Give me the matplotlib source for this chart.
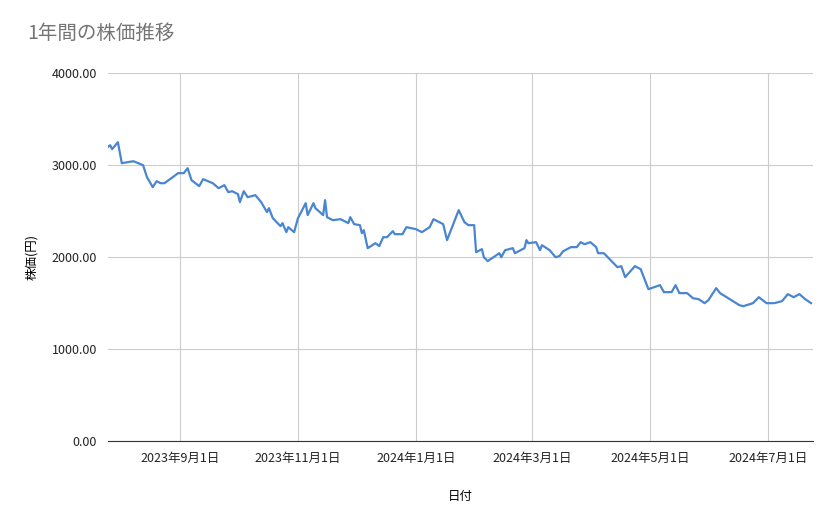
import matplotlib
matplotlib.use("Agg")
import matplotlib.pyplot as plt
import matplotlib.dates as mdates
import pandas as pd

plt.rcParams['font.family'] = ['Noto Sans CJK JP', 'DejaVu Sans']

start_date = "2023-07-26"
days = [0, 1, 2, 5, 7, 13, 18, 20, 23, 25, 27, 29, 34, 36, 39, 41, 43, 47, 49, 54,
        57, 60, 62, 64, 67, 68, 70, 72, 76, 79, 82, 83, 85, 89, 90, 92, 93, 96, 98, 102,
        103, 106, 107, 111, 112, 113, 116, 120, 124, 125, 127, 130, 131, 132, 134, 138, 140, 142, 144, 147,
        148, 152, 154, 159, 162, 166, 168, 173, 175, 178, 181, 184, 186, 189, 190, 193, 194, 196, 202, 203,
        205, 209, 210, 215, 216, 217, 221, 223, 224, 228, 231, 233, 235, 239, 242, 244, 246, 249, 252, 253,
        256, 260, 261, 263, 265, 267, 272, 275, 279, 285, 287, 291, 293, 295, 299, 302, 305, 308, 310, 314,
        316, 321, 326, 328, 333, 336, 340, 344, 348, 351, 354, 357, 360, 363]
prices = [3200, 3217, 3174, 3250, 3022, 3043, 3000, 2870, 2761, 2826, 2804, 2804, 2880, 2913, 2913, 2967, 2837, 2772, 2848, 2804,
          2750, 2783, 2707, 2717, 2685, 2598, 2717, 2652, 2674, 2598, 2489, 2533, 2424, 2337, 2370, 2272, 2326, 2272, 2424, 2587,
          2457, 2587, 2533, 2457, 2620, 2435, 2402, 2413, 2370, 2435, 2359, 2348, 2261, 2293, 2098, 2152, 2120, 2217, 2217, 2283,
          2250, 2250, 2326, 2304, 2272, 2326, 2413, 2359, 2185, 2348, 2511, 2380, 2348, 2348, 2054, 2087, 2000, 1957, 2043, 2000,
          2076, 2098, 2043, 2098, 2185, 2152, 2163, 2076, 2130, 2076, 2000, 2011, 2065, 2109, 2109, 2163, 2141, 2163, 2109, 2043,
          2043, 1957, 1935, 1891, 1902, 1783, 1902, 1870, 1652, 1696, 1620, 1620, 1696, 1609, 1609, 1554, 1543, 1500, 1533, 1663,
          1609, 1543, 1478, 1467, 1500, 1565, 1500, 1500, 1522, 1598, 1565, 1598, 1543, 1500]
tick_dates = ["2023-09-01", "2023-11-01", "2024-01-01", "2024-03-01", "2024-05-01", "2024-07-01"]
tick_labels = ["2023年9月1日", "2023年11月1日", "2024年1月1日", "2024年3月1日", "2024年5月1日", "2024年7月1日"]

dates = pd.Timestamp(start_date) + pd.to_timedelta(days, unit="D")

fig = plt.figure(figsize=(8.39, 5.19), dpi=100)
ax = fig.add_axes([0.129, 0.150, 0.840, 0.709])
ax.plot(dates, prices, color="#4a86cf", linewidth=1.6)

ax.set_xlim(pd.Timestamp(start_date), pd.Timestamp(start_date) + pd.Timedelta(days=364))
ax.set_ylim(0, 4000)
ax.set_yticks([0, 1000, 2000, 3000, 4000])
ax.set_yticklabels([f"{v:.2f}" for v in [0, 1000, 2000, 3000, 4000]])
ax.set_xticks(pd.to_datetime(tick_dates))
ax.set_xticklabels(tick_labels)
ax.tick_params(length=0, labelsize=9, colors="#222222", pad=8)
ax.grid(color="#cccccc", linewidth=0.8)
ax.set_axisbelow(True)
for s in ["top", "right", "left"]:
    ax.spines[s].set_visible(False)
ax.spines["bottom"].set_color("#333333")

ax.set_xlabel("日付", fontsize=9, labelpad=18)
ax.set_ylabel("株価(円)", fontsize=9, labelpad=10)
fig.text(0.033, 0.925, "1年間の株価推移", fontsize=14, color="#757575")

fig.savefig("out.png", dpi=100)
